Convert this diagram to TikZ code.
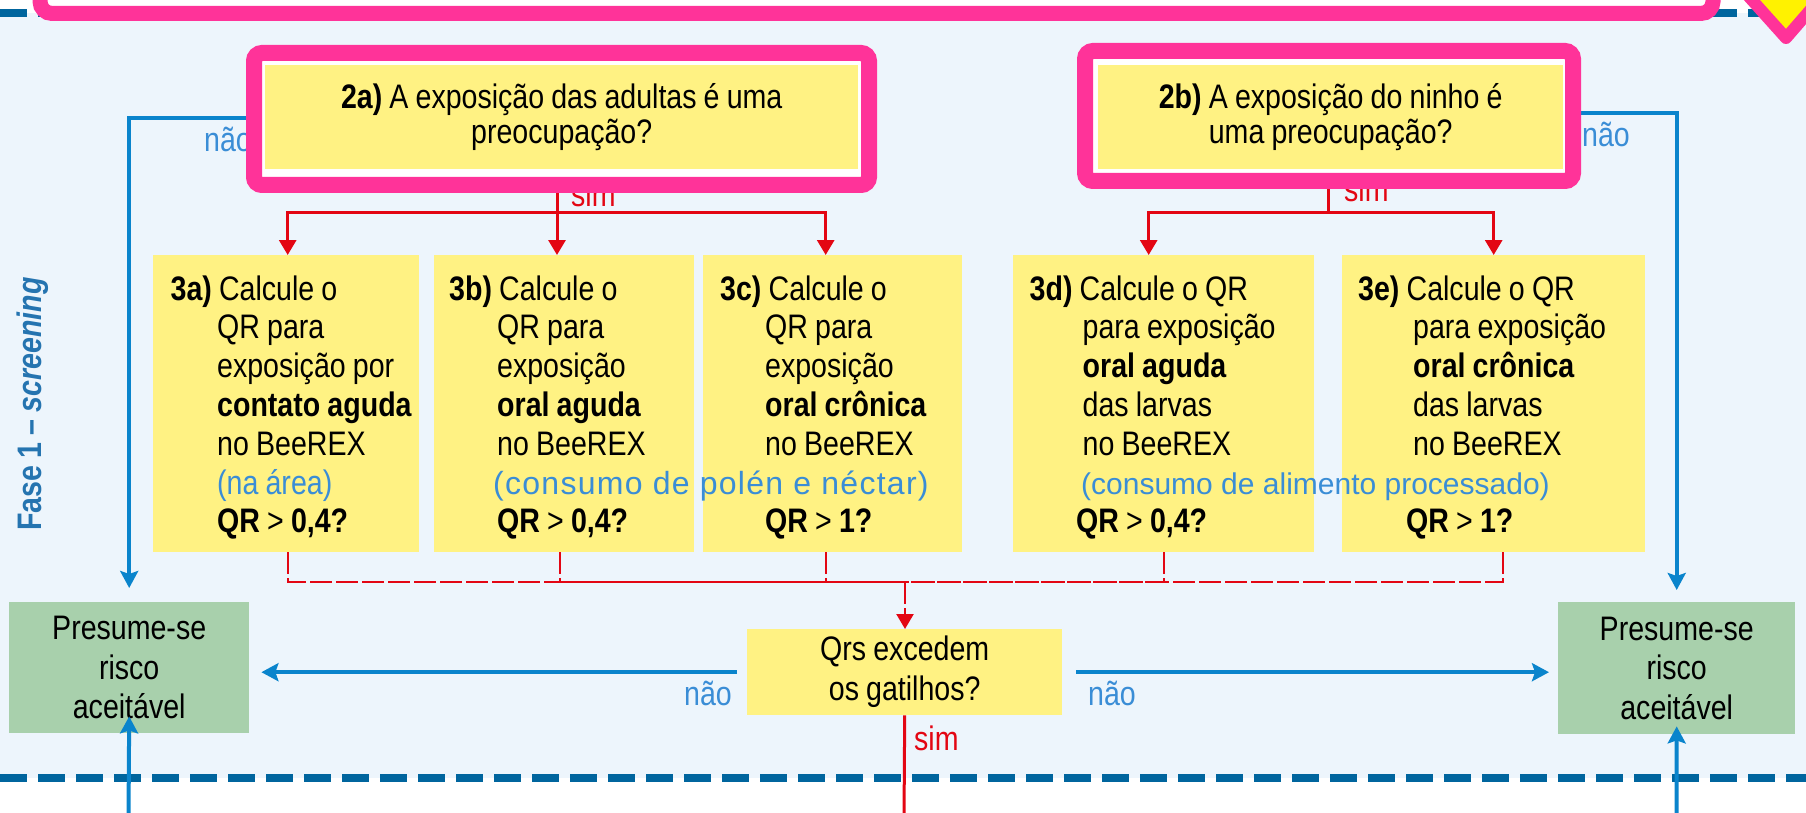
\documentclass[tikz,border=0pt]{standalone}
\usepackage{fontspec}
\setmainfont{Liberation Sans}[FakeStretch=0.84, WordSpace=0.9]
\newfontfamily\widefont{Liberation Sans}
\usetikzlibrary{arrows.meta}

\definecolor{qyellow}{HTML}{FFF283}
\definecolor{rgreen}{HTML}{A8D0AC}
\definecolor{hotpink}{HTML}{FF3399}
\definecolor{sred}{HTML}{E30613}
\definecolor{nblue}{HTML}{0A84CC}
\definecolor{tblue}{HTML}{3A8DD6}
\definecolor{dblue}{HTML}{00659E}
\definecolor{fblue}{HTML}{2574B0}
\definecolor{bgblue}{HTML}{EDF5FC}

\begin{document}
\begin{tikzpicture}[x=1pt, y=-1pt,
    qbox/.style={fill=qyellow, inner sep=0pt, anchor=north west, align=center, font=\fontsize{34}{35}\selectfont},
    calcbox/.style={fill=qyellow, inner sep=0pt, anchor=north west, minimum height=297pt},
    calctext/.style={anchor=base west, inner sep=0pt, text width=560pt, align=flush left, font=\fontsize{34}{38.8}\selectfont},
    riskbox/.style={fill=rgreen, inner sep=0pt, anchor=north west, text width=220pt, align=center, font=\fontsize{34}{39.5}\selectfont},
    pinkframe/.style={draw=hotpink, line width=16pt, rounded corners=8pt, fill=white},
    simline/.style={draw=sred, line width=3pt},
    simarrow/.style={simline, -{Triangle[length=15pt, width=17pt]}},
    simdash/.style={draw=sred, line width=2.4pt, dash pattern=on 22pt off 4pt},
    naoarrow/.style={draw=nblue, line width=4pt, -{Stealth[length=17pt, width=18pt, inset=3pt]}},
    naolabel/.style={anchor=base west, inner sep=0pt, text=tblue, font=\fontsize{34}{34}\selectfont},
    simlabel/.style={naolabel, text=sred},
    dashrule/.style={draw=dblue, line width=8pt, dash pattern=on 27pt off 11pt}]
    \useasboundingbox (0,0) rectangle (1806,813);
    \clip (0,0) rectangle (1806,813);

    \fill[bgblue] (0,13) rectangle (1806,778);
    \draw[dashrule] (0,13) -- (1806,13);
    \draw[dashrule] (0,778) -- (1806,778);
    \draw[pinkframe, line width=15pt, rounded corners=12pt] (40,-60) rectangle (1713,13.5);
    \filldraw[fill=yellow, draw=hotpink, line width=12pt, line join=round] (1725,-30) -- (1786,38) -- (1845,-30) -- cycle;

    \node[rotate=90, inner sep=0pt, text=fblue, font=\bfseries\fontsize{34}{34}\selectfont] (fase) at (33,404) {Fase 1 – \textit{screening}};

    \node[riskbox, minimum width=240pt, minimum height=131pt] (gl) at (9,602) {Presume-se\\risco\\aceitável};
    \node[riskbox, minimum width=237pt, minimum height=132pt] (gr) at (1558,602) {Presume-se\\risco\\aceitável};

    \node[calcbox, minimum width=266pt] (b3a) at (153,255) {};
    \node[calcbox, minimum width=260pt] (b3b) at (434,255) {};
    \node[calcbox, minimum width=259pt] (b3c) at (703,255) {};
    \node[calcbox, minimum width=301pt] (b3d) at (1013,255) {};
    \node[calcbox, minimum width=303pt] (b3e) at (1342,255) {};
    \node[qbox, minimum width=315pt, minimum height=86pt, font=\fontsize{34}{40}\selectfont] (qrs) at (747,629) {Qrs excedem\\os gatilhos?};

    \node[calctext] (t3a) at (170.5,300) {\textbf{3a)} Calcule o\\\hspace*{46.5pt}QR para\\\hspace*{46.5pt}exposição por\\\hspace*{46.5pt}\textbf{contato aguda}\\\hspace*{46.5pt}no BeeREX\\\hspace*{46.5pt}\textcolor{tblue}{(na área)}\\\hspace*{46.5pt}\textbf{QR} {\mdseries\textgreater} \textbf{0,4?}};
    \node[calctext] (t3b) at (449,300) {\textbf{3b)} Calcule o\\\hspace*{48pt}QR para\\\hspace*{48pt}exposição\\\hspace*{48pt}\textbf{oral aguda}\\\hspace*{48pt}no BeeREX\\\hspace*{44pt}{\widefont\addfontfeature{LetterSpace=4}\fontsize{32}{38.8}\selectfont\color{tblue}(consumo de polén e néctar)}\\\hspace*{48pt}\textbf{QR} {\mdseries\textgreater} \textbf{0,4?}};
    \node[calctext] (t3c) at (720,300) {\textbf{3c)} Calcule o\\\hspace*{45pt}QR para\\\hspace*{45pt}exposição\\\hspace*{45pt}\textbf{oral crônica}\\\hspace*{45pt}no BeeREX\\\mbox{}\\\hspace*{45pt}\textbf{QR} {\mdseries\textgreater} \textbf{1?}};
    \node[calctext] (t3d) at (1029.5,300) {\textbf{3d)} Calcule o QR\\\hspace*{53pt}para exposição\\\hspace*{53pt}\textbf{oral aguda}\\\hspace*{53pt}das larvas\\\hspace*{53pt}no BeeREX\\\hspace*{51.5pt}{\widefont\fontsize{30}{38.8}\selectfont\color{tblue}(consumo de alimento processado)}\\\hspace*{46.5pt}\textbf{QR} {\mdseries\textgreater} \textbf{0,4?}};
    \node[calctext] (t3e) at (1358,300) {\textbf{3e)} Calcule o QR\\\hspace*{55pt}para exposição\\\hspace*{55pt}\textbf{oral crônica}\\\hspace*{55pt}das larvas\\\hspace*{55pt}no BeeREX\\\mbox{}\\\hspace*{48pt}\textbf{QR} {\mdseries\textgreater} \textbf{1?}};

    \coordinate (n2a) at (265,118);
    \coordinate (n2b) at (1563,113);
    \draw[naoarrow, shorten >=14pt] (n2a) -| (gl.north);
    \draw[naoarrow, shorten >=12pt] (n2b) -| (gr.north);
    \node[naolabel] (l2a) at (204,152) {não};
    \node[naolabel] (l2b) at (1582,147) {não};

    \coordinate (s2a) at (557,171);
    \coordinate (j2a) at (557,212);
    \coordinate (s2b) at (1328,171);
    \coordinate (j2b) at (1328,212);
    \draw[simline] (s2a) -- (j2a);
    \draw[simline] (s2b) -- (j2b);
    \draw[simarrow] (j2a) -| ([xshift=1.5pt]b3a.north);
    \draw[simarrow] (j2a) -- (j2a |- b3b.north);
    \draw[simarrow] (j2a) -| ([xshift=-7pt]b3c.north);
    \draw[simarrow] (j2b) -| ([xshift=-15pt]b3d.north);
    \draw[simarrow] (j2b) -| (b3e.north);
    \node[simlabel] (l2as) at (571,207) {sim};
    \node[simlabel] (l2bs) at (1344,202) {sim};

    \draw[pinkframe] (254,53) rectangle (869,185);
    \draw[pinkframe] (1085,51) rectangle (1573,181);
    \node[qbox, minimum width=593pt, minimum height=104pt] (q2a) at (265,65) {\textbf{2a)} A exposição das adultas é uma\\preocupação?};
    \node[qbox, minimum width=465pt, minimum height=104pt] (q2b) at (1098,65) {\textbf{2b)} A exposição do ninho é\\uma preocupação?};

    \coordinate (jq) at (905,582);
    \draw[simdash] ([xshift=1.5pt]b3a.south) |- (jq);
    \draw[simdash] ([xshift=-4pt]b3b.south) |- (jq);
    \draw[simdash] ([xshift=-7pt]b3c.south) |- (jq);
    \draw[simdash] (b3d.south) |- (jq);
    \draw[simdash] ([xshift=9.5pt]b3e.south) |- (jq);
    \draw[simdash, -{Triangle[length=15pt, width=17pt]}] (jq) -- (jq |- qrs.north);

    \draw[naoarrow, shorten <=10pt, shorten >=12pt] (qrs.west) -- (qrs.west -| gl.east);
    \draw[naoarrow, shorten <=14pt, shorten >=9pt] (qrs.east) -- (qrs.east -| gr.west);
    \node[naolabel] (lqa) at (684,705) {não};
    \node[naolabel] (lqb) at (1088,705) {não};

    \coordinate (bl) at (128.5,820);
    \coordinate (br) at (1676.5,820);
    \coordinate (bq) at (904,820);
    \draw[naoarrow] (bl) -- ([yshift=17pt]gl.south);
    \draw[naoarrow] (br) -- ([yshift=8pt]gr.south);
    \draw[simline] (qrs.south) -- (bq);
    \node[simlabel] (lqs) at (914,750) {sim};
\end{tikzpicture}
\end{document}
